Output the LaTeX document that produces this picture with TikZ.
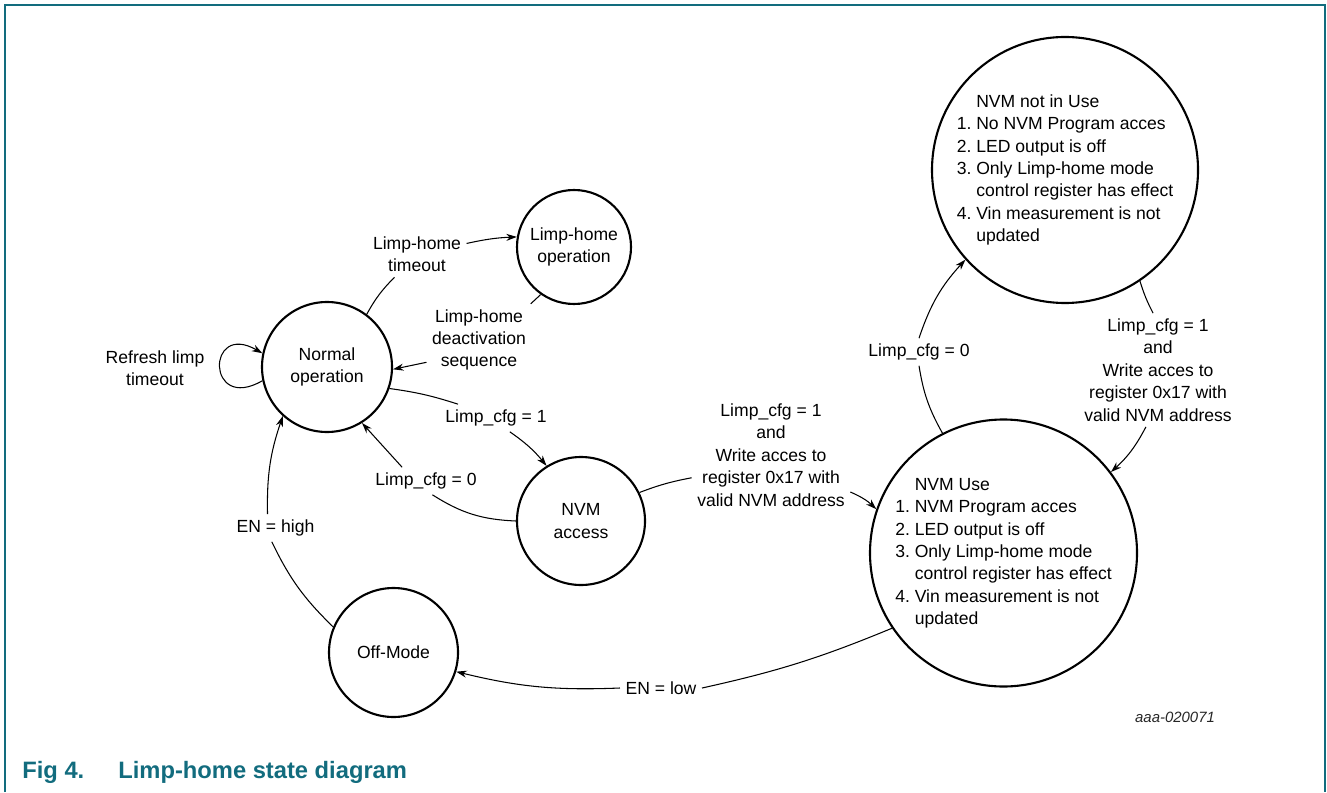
\documentclass[tikz,border=0pt]{standalone}
\usepackage{fontspec}
\setmainfont{Liberation Sans}
\usepackage{tikz}
\usetikzlibrary{arrows.meta,positioning,calc}
\definecolor{nxpteal}{RGB}{18,108,126}

\begin{document}
\begin{tikzpicture}[
    every node/.style={font=\fontsize{10}{12.75}\selectfont},
    state/.style={circle, draw=black, line width=1.2pt, inner sep=0pt, align=center},
    lbl/.style={align=center, inner sep=3pt},
    list/.style={inner sep=0pt},
    line/.style={line width=0.6pt},
    arrow/.style={->, >={Stealth[length=6pt, width=4pt]}, line width=0.6pt},
    caption/.style={anchor=base west, inner sep=0pt, text=nxpteal, font=\fontsize{13.5}{16}\selectfont\bfseries}
]
\useasboundingbox (0,0) rectangle (26.54,15.84);

% Frame
\draw[nxpteal, line width=0.7pt] (0.1,0) -- (0.1,15.74) -- (26.5,15.74) -- (26.5,0);

% States
\node[state, minimum size=2.60cm] (normal) at (6.54, 8.50) {Normal\\operation};
\node[state, minimum size=2.28cm] (limp) at (11.48, 10.90) {Limp-home\\operation};
\node[state, minimum size=2.56cm] (nvmacc) at (11.62, 5.42) {NVM\\access};
\node[state, minimum size=2.58cm] (offmode) at (7.87, 2.79) {Off-Mode};
\node[state, minimum size=5.32cm] (nvmnot) at (21.30, 12.44) {};
\node[state, minimum size=5.34cm] (nvmuse) at (20.07, 4.78) {};

% State contents
\node[list] at (nvmnot) {\begin{tabular}{@{}r@{\ }l@{}}
     & NVM not in Use\\
  1. & No NVM Program acces\\
  2. & LED output is off\\
  3. & Only Limp-home mode\\
     & control register has effect\\
  4. & Vin measurement is not\\
     & updated
\end{tabular}};
\node[list] at (nvmuse) {\begin{tabular}{@{}r@{\ }l@{}}
     & NVM Use\\
  1. & NVM Program acces\\
  2. & LED output is off\\
  3. & Only Limp-home mode\\
     & control register has effect\\
  4. & Vin measurement is not\\
     & updated
\end{tabular}};

% Transition labels
\node[lbl] (refresh) at (3.10, 8.48) {Refresh limp\\timeout};
\node[lbl] (tmo) at (8.34, 10.76) {Limp-home\\timeout};
\node[lbl] (deact) at (9.58, 9.04) {Limp-home\\deactivation\\sequence};
\node[lbl] (cfgup) at (9.92, 7.48) {Limp\_cfg = 1};
\node[lbl] (cfgdown) at (8.52, 6.22) {Limp\_cfg = 0};
\node[lbl] (wracc) at (15.42, 6.74) {Limp\_cfg = 1\\and\\Write acces to\\register 0x17 with\\valid NVM address};
\node[lbl] (cfgoff) at (18.38, 8.80) {Limp\_cfg = 0};
\node[lbl] (wrset) at (23.16, 8.44) {Limp\_cfg = 1\\and\\Write acces to\\register 0x17 with\\valid NVM address};
\node[lbl] (enlow) at (13.22, 2.08) {EN = low};
\node[lbl] (enhigh) at (5.51, 5.28) {EN = high};

% Transitions
\draw[arrow] (normal.192) .. controls +(210:1.3) and +(150:1.3) .. (normal.168);
\draw[line] (normal.53) to[bend left=8] (tmo.226);
\draw[arrow] (tmo.12) to[bend left=5] (limp.170);
\draw[line] (limp.235) -- (deact.35);
\draw[arrow] (deact.203) -- (normal.358);
\draw[line] (normal.341) to[bend left=5] (cfgup.160);
\draw[arrow] (cfgup.315) to[bend left=8] (nvmacc.122);
\draw[line] (nvmacc.180) to[bend left=15] (cfgdown.295);
\draw[arrow] (cfgdown.150) -- (normal.302);
\draw[line] (nvmacc.26) to[bend left=5] (wracc.196);
\draw[arrow] (wracc.335) to[bend left=10] (nvmuse.161);
\draw[line] (nvmuse.117) to[bend left=10] (cfgoff.270);
\draw[arrow] (cfgoff.90) to[bend left=12] (nvmnot.222);
\draw[line] (nvmnot.304) to[bend right=5] (wrset.95);
\draw[arrow] (wrset.258) to[bend left=10] (nvmuse.37);
\draw[line] (nvmuse.214) to[bend left=5] (enlow.east);
\draw[arrow] (enlow.west) to[bend left=8] (offmode.343);
\draw[line] (offmode.157) to[bend left=10] (enhigh.255);
\draw[arrow] (enhigh.120) to[bend left=10] (normal.228);

% Figure number and caption
\node[font=\fontsize{8.5}{10}\selectfont\itshape, text=black!85] (fignum) at (23.50, 1.50) {aaa-020071};
\node[caption] (figno) at (0.44, 0.28) {Fig 4.};
\node[caption] (figttl) at (2.36, 0.28) {Limp-home state diagram};

\end{tikzpicture}
\end{document}
